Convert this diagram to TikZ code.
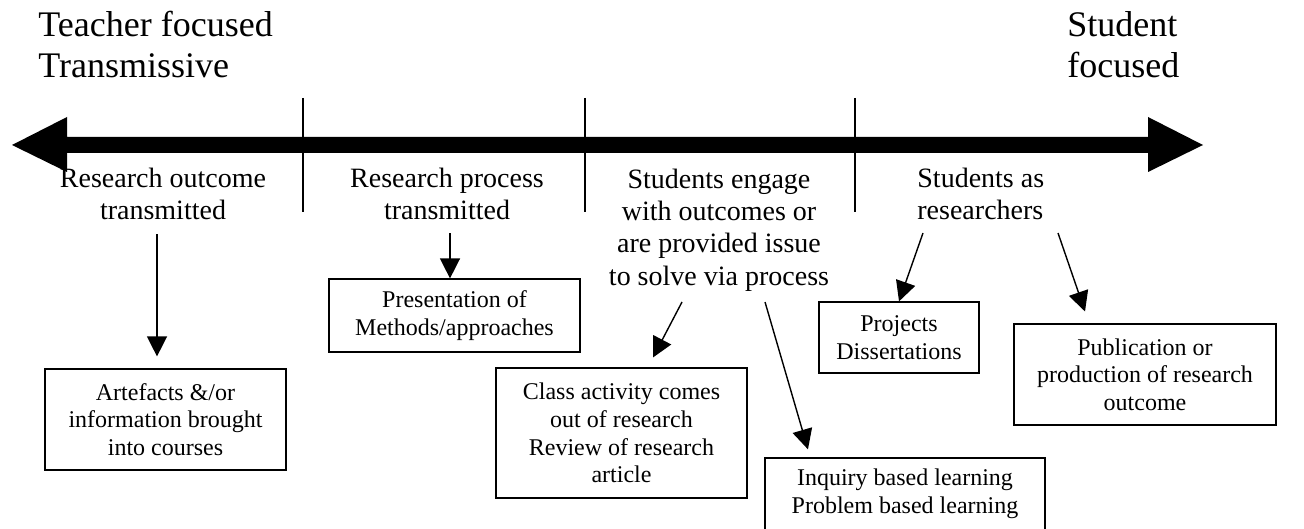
\documentclass[tikz,border=0pt]{standalone}
\usepackage{fontspec}
\setmainfont{Liberation Serif}
\usetikzlibrary{arrows.meta}

\begin{document}
\begin{tikzpicture}[x=0.5pt, y=-0.5pt,
    title/.style={font=\fontsize{18}{20.7}\selectfont, inner sep=0pt,
                  align=left, anchor=base west},
    stage/.style={font=\fontsize{14}{16.1}\selectfont, inner sep=0pt,
                  align=center, anchor=base},
    box/.style={draw, line width=0.6pt, inner sep=0pt, align=center,
                font=\fontsize{12}{13.8}\selectfont},
    link/.style={-{Triangle[length=10pt, width=10pt]}, line width=0.7pt},
  ]
  \useasboundingbox (0,0) rectangle (1304,529);

  % the two ends of the scale (base = last line)
  \node[title] (teacher) at (38,78) {Teacher focused\\Transmissive};
  \node[title] (student) at (1067,78) {Student\\focused};

  % double arrow and the stage dividers
  \fill (12,145) -- (67,117) -- (67,137) -- (1148,137) -- (1148,117)
    -- (1203,145) -- (1148,172) -- (1148,153) -- (67,153) -- (67,172) -- cycle;
  \foreach \x in {303,585,855}
    \draw[line width=0.7pt] (\x,98) -- (\x,212);

  % stages
  \node[stage] (outcome) at (163,220) {Research outcome\\transmitted};
  \node[stage] (process) at (447,220) {Research process\\transmitted};
  \node[stage] (engage) at (719,285) {Students engage\\with outcomes or\\are provided issue\\to solve via process};
  \node[stage, align=left, anchor=base west] (asres) at (917,220) {Students as\\researchers};

  % examples
  \node[box, minimum width=120.5pt, minimum height=50.5pt] (artefacts)
    at (165.5,419.5) {Artefacts \&/or\\information brought\\into courses};
  \node[box, minimum width=125.5pt, minimum height=36.5pt] (methods)
    at (454.5,315.5) {Presentation of\\Methods/approaches};
  \node[box, minimum width=125.5pt, minimum height=65pt] (classact)
    at (621.5,433) {Class activity comes\\out of research\\Review of research\\article};
  \node[box, minimum width=140pt, minimum height=36pt] (inquiry)
    at (905,494) {Inquiry based learning\\Problem based learning};
  \node[box, minimum width=80pt, minimum height=35.5pt] (projects)
    at (899,337.5) {Projects\\Dissertations};
  \node[box, minimum width=131pt, minimum height=50.5pt] (publication)
    at (1145,374.5) {Publication or\\production of research\\outcome};

  % links
  \draw[link, shorten >=6pt] ([xshift=-3pt, yshift=-7pt]outcome.base)
    -- ([xshift=-4.25pt]artefacts.north);
  \draw[link] ([xshift=1.5pt, yshift=-6.5pt]process.base)
    -- ([xshift=-2.25pt]methods.north);
  \draw[link, shorten >=5.6pt] ([xshift=-18.5pt, yshift=-8.5pt]engage.base)
    -- ([xshift=13.15pt]classact.north);
  \draw[link, shorten >=4.2pt] ([xshift=23pt, yshift=-8.5pt]engage.base)
    -- ([xshift=-47.35pt]inquiry.north);
  \draw[link] ([xshift=3pt, yshift=-6.5pt]asres.base west)
    -- (projects.north);
  \draw[link, shorten >=6.3pt] ([xshift=70.5pt, yshift=-6.5pt]asres.base west)
    -- ([xshift=-27.95pt]publication.north);
\end{tikzpicture}
\end{document}
